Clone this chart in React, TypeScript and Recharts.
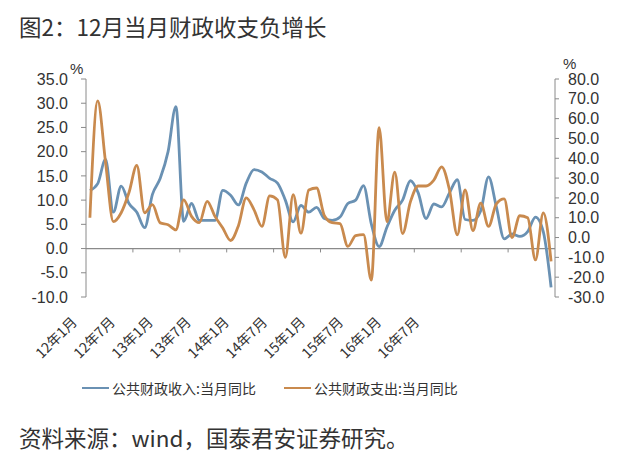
import React from 'react';
import { LineChart, Line, XAxis, YAxis, ReferenceLine } from 'recharts';

const xTickLabels = ['12年1月', '12年7月', '13年1月', '13年7月', '14年1月', '14年7月', '15年1月', '15年7月', '16年1月', '16年7月'];

// 公共财政收入:当月同比 (left axis, %), 2012-01 .. 2016-12
const revenue = [
  12.0, 13.4, 18.4, 7.5, 12.9, 9.3, 7.5, 4.3, 11.2, 14.5, 20.0, 29.3,
  5.6, 9.3, 5.8, 5.8, 5.8, 12.0, 11.0, 9.0, 13.5, 16.3, 15.8, 14.5,
  13.5, 10.0, 5.5, 8.9, 7.5, 8.5, 6.2, 5.8, 6.5, 9.3, 10.0, 13.0,
  5.1, 0.4, 4.4, 7.9, 10.0, 14.0, 11.5, 6.2, 9.2, 8.6, 11.5, 14.2,
  6.0, 5.8, 7.8, 14.8, 8.6, 2.0, 3.0, 2.5, 3.5, 6.5, 3.5, -8.0,
];

// 公共财政支出:当月同比 (right axis, %)
const expenditure = [
  10.0, 69.0, 38.0, 8.0, 12.5, 22.7, 36.4, 12.5, 16.6, 7.4, 6.5, 3.9,
  19.0, 10.7, 7.5, 18.3, 10.7, 4.8, -1.5, 6.0, 20.0, 14.0, 5.6, 21.0,
  19.0, -10.0, 21.7, 2.2, 24.0, 25.0, 11.0, 7.5, 7.0, -4.5, 1.0, 1.5,
  -21.5, 55.5, 8.0, 33.0, 2.0, 18.0, 26.0, 26.0, 29.0, 35.7, 24.0, 1.4,
  24.0, 3.5, 17.4, 5.6, 17.0, 19.5, 0.0, 11.0, 10.0, -11.3, 12.4, -12.0,
];

const leftTicks = [-10, -5, 0, 5, 10, 15, 20, 25, 30, 35];
const rightTicks = [-30, -20, -10, 0, 10, 20, 30, 40, 50, 60, 70, 80];
const monthBoundaries = [6, 12, 18, 24, 30, 36, 42, 48, 54];
const labelIndex = [0, 1, 2, 3, 4, 5, 6, 7, 8, 9];

const data = revenue.map((r, i) => ({ x: i + 0.5, rev: r, exp: expenditure[i] }));
const labelRows = labelIndex.map((k) => ({ k, v: null }));

const BLUE = '#6a91b3';
const ORANGE = '#c98a4e';
const AXIS = '#8a8a8a';
const cjk = '"Noto Sans CJK SC", "Noto Sans", sans-serif';
const num = '"Liberation Sans", Arial, sans-serif';

const LabelTick = (props: any) => {
  const { x, y, payload } = props;
  const ax = x - 8;
  const ay = y + 26;
  return (
    <text
      x={ax}
      y={ay}
      textAnchor="end"
      transform={`rotate(-45 ${ax} ${ay})`}
      fontSize={14}
      fontFamily={cjk}
      fill="#333"
    >
      {xTickLabels[payload.value]}
    </text>
  );
};

const legendItems = [
  { name: '公共财政收入:当月同比', color: BLUE },
  { name: '公共财政支出:当月同比', color: ORANGE },
];

export default function App() {
  return (
    <div style={{ position: 'absolute', left: 0, top: 0, width: 640, height: 465, background: '#fff', overflow: 'hidden' }}>
      <div style={{ position: 'absolute', left: 19, top: 15, fontSize: 22.5, lineHeight: 1, fontFamily: cjk, color: '#333', whiteSpace: 'nowrap' }}>
        图2：12月当月财政收支负增长
      </div>
      <div style={{ position: 'absolute', left: 70, top: 61, fontSize: 15, lineHeight: 1, fontFamily: num, color: '#333' }}>%</div>
      <div style={{ position: 'absolute', left: 563, top: 56, fontSize: 15, lineHeight: 1, fontFamily: num, color: '#333' }}>%</div>
      <div style={{ position: 'absolute', left: 0, top: 0 }}>
        <LineChart width={640} height={465} data={data} margin={{ top: 79, right: 0, bottom: 108, left: 0 }}>
          <XAxis xAxisId="main" dataKey="x" type="number" domain={[0, 60]} hide />
          <XAxis
            xAxisId="lab"
            dataKey="k"
            type="number"
            domain={[0, 12.34]}
            ticks={labelIndex}
            allowDataOverflow
            axisLine={false}
            tickLine={false}
            tickSize={0}
            tickMargin={0}
            height={60}
            tick={<LabelTick />}
            interval={0}
          />
          <YAxis
            yAxisId="left"
            orientation="left"
            width={86}
            domain={[-10, 35]}
            ticks={leftTicks}
            interval={0}
            allowDataOverflow
            stroke={AXIS}
            tickSize={5}
            tickMargin={13}
            tickFormatter={(v: number) => v.toFixed(1)}
            tick={{ fill: '#333', fontSize: 16, fontFamily: num }}
          />
          <YAxis
            yAxisId="right"
            orientation="right"
            width={85}
            domain={[-30, 80]}
            ticks={rightTicks}
            interval={0}
            allowDataOverflow
            stroke={AXIS}
            tickSize={4}
            tickMargin={9}
            tickFormatter={(v: number) => v.toFixed(1)}
            tick={{ fill: '#333', fontSize: 16, fontFamily: num }}
          />
          <ReferenceLine xAxisId="main" yAxisId="left" y={0} stroke={AXIS} strokeWidth={1.2} />
          {monthBoundaries.map((b) => (
            <ReferenceLine
              key={b}
              xAxisId="main"
              yAxisId="left"
              segment={[{ x: b, y: 0 }, { x: b, y: -0.8 }]}
              stroke={AXIS}
            />
          ))}
          <Line
            xAxisId="lab"
            yAxisId="left"
            data={labelRows}
            dataKey="v"
            stroke="none"
            dot={false}
            activeDot={false}
            legendType="none"
            isAnimationActive={false}
          />
          <Line
            xAxisId="main"
            yAxisId="left"
            type="monotone"
            dataKey="rev"
            name="公共财政收入:当月同比"
            stroke={BLUE}
            strokeWidth={2.8}
            dot={false}
            isAnimationActive={false}
          />
          <Line
            xAxisId="main"
            yAxisId="right"
            type="monotone"
            dataKey="exp"
            name="公共财政支出:当月同比"
            stroke={ORANGE}
            strokeWidth={2.8}
            dot={false}
            isAnimationActive={false}
          />
        </LineChart>
      </div>
      <div style={{ position: 'absolute', left: 0, top: 378, width: 640, display: 'flex', paddingLeft: 82, gap: 28, fontFamily: cjk, fontSize: 14, color: '#333', boxSizing: 'border-box' }}>
        {legendItems.map((it) => (
          <div key={it.name} style={{ display: 'flex', alignItems: 'center' }}>
            <div style={{ width: 27, height: 2, background: it.color, marginRight: 3 }} />
            <span>{it.name}</span>
          </div>
        ))}
      </div>
      <div style={{ position: 'absolute', left: 19, top: 426, fontSize: 22.5, lineHeight: 1, fontFamily: cjk, color: '#333', whiteSpace: 'nowrap' }}>
        资料来源：wind，国泰君安证券研究。
      </div>
    </div>
  );
}
